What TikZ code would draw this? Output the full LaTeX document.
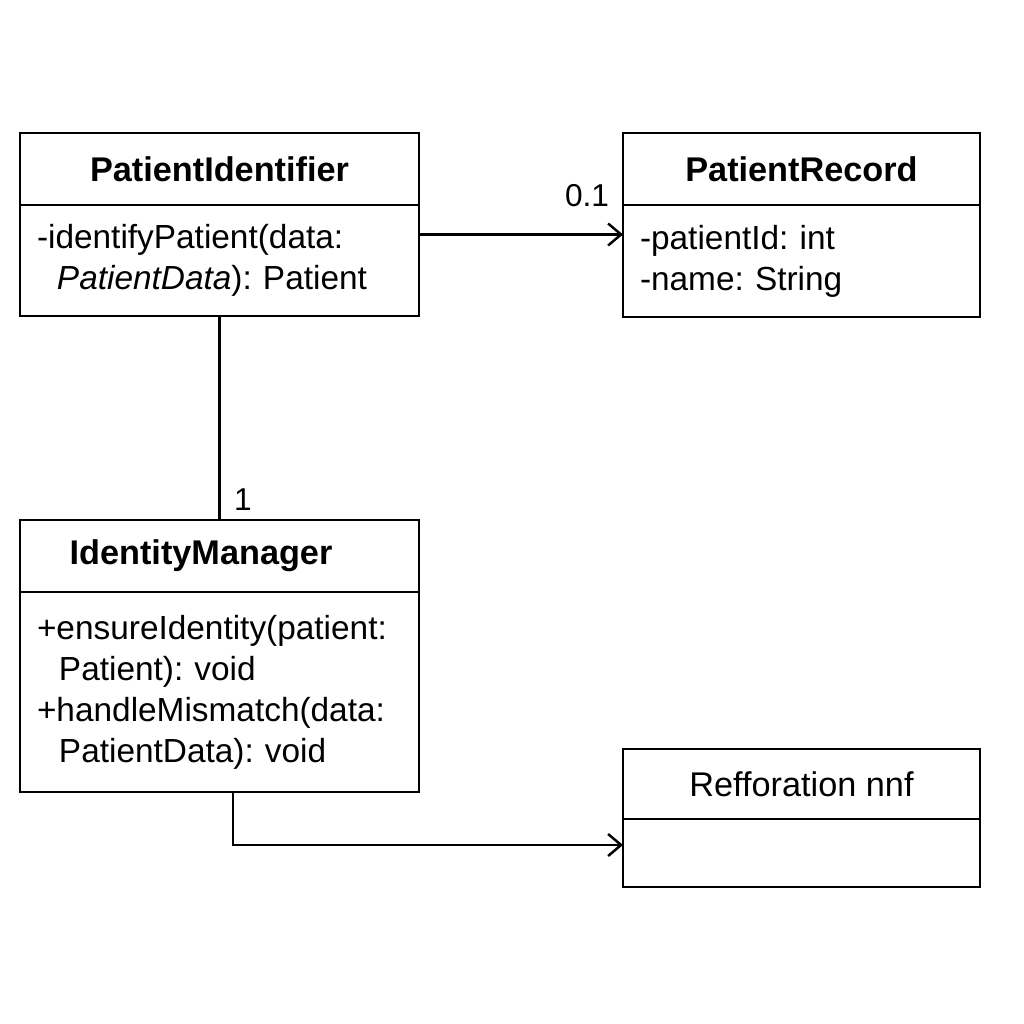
\documentclass[tikz,border=0pt]{standalone}
\usepackage{fontspec}
\setmainfont{Liberation Sans}
\usetikzlibrary{positioning,arrows.meta}
\frenchspacing

\begin{document}
\begin{tikzpicture}[node distance={40mm},
    umlhead/.style={draw,line width=1.6pt,inner sep=0pt,outer sep=0pt,minimum height=1.44cm,font=\fontsize{19.5}{23}\selectfont\bfseries},
    umlbody/.style={draw,line width=1.6pt,inner ysep=0pt,inner xsep=0.34cm,outer sep=0pt,align=left,font=\fontsize{19}{23.3}\selectfont},
    assoc/.style={line width=1.4pt,-{Straight Barb[length=2.6mm,width=4.4mm,line width=1.4pt]}}]
          \useasboundingbox (0,0) rectangle (20.48,20.48);

          \node[umlhead,minimum width=7.98cm] (pi_h) at (4.39,17.10) {PatientIdentifier};
          \node[umlbody,text width=7.30cm,minimum height=2.22cm] (pi_b) [below=0pt of pi_h]
               {-identifyPatient(data:\\\hspace*{0.4cm}\textit{PatientData}): Patient};

          \node[umlhead,minimum width=7.14cm] (pr_h) [right=4.08cm of pi_h] {PatientRecord};
          \node[umlbody,text width=6.46cm,minimum height=2.24cm] (pr_b) [below=0pt of pr_h]
               {-patientId: int\\-name: String};

          \node[umlhead,minimum width=7.98cm] (im_h) [below=4.08cm of pi_b] {IdentityManager\hspace*{0.74cm}};
          \node[umlbody,text width=7.30cm,minimum height=4.00cm] (im_b) [below=0pt of im_h]
               {+ensureIdentity(patient:\\\hspace*{0.44cm}Patient): void\\+handleMismatch(data:\\\hspace*{0.44cm}PatientData): void};

          \node[umlhead,minimum width=7.14cm,minimum height=1.40cm,font=\fontsize{19.5}{23}\selectfont] (rf_h) [below=8.64cm of pr_b] {Refforation nnf};
          \node[umlbody,text width=6.46cm,minimum height=1.36cm] (rf_b) [below=0pt of rf_h] {};

          \node[font=\fontsize{18}{22}\selectfont] (m_01) at (11.74,16.56) {0.1};
          \node[font=\fontsize{18}{22}\selectfont] (m_1) at (4.86,10.48) {1};

          \draw[assoc] ([yshift=0.52cm]pi_b.east) coordinate (a_1) -- (a_1 -| pr_b.west);
          \draw[line width=1.4pt] (pi_b.south) -- (im_h.north);
          \draw[assoc] ([xshift=0.27cm]im_b.south) |- ([yshift=0.16cm]rf_b.west);
        \end{tikzpicture}
\end{document}
